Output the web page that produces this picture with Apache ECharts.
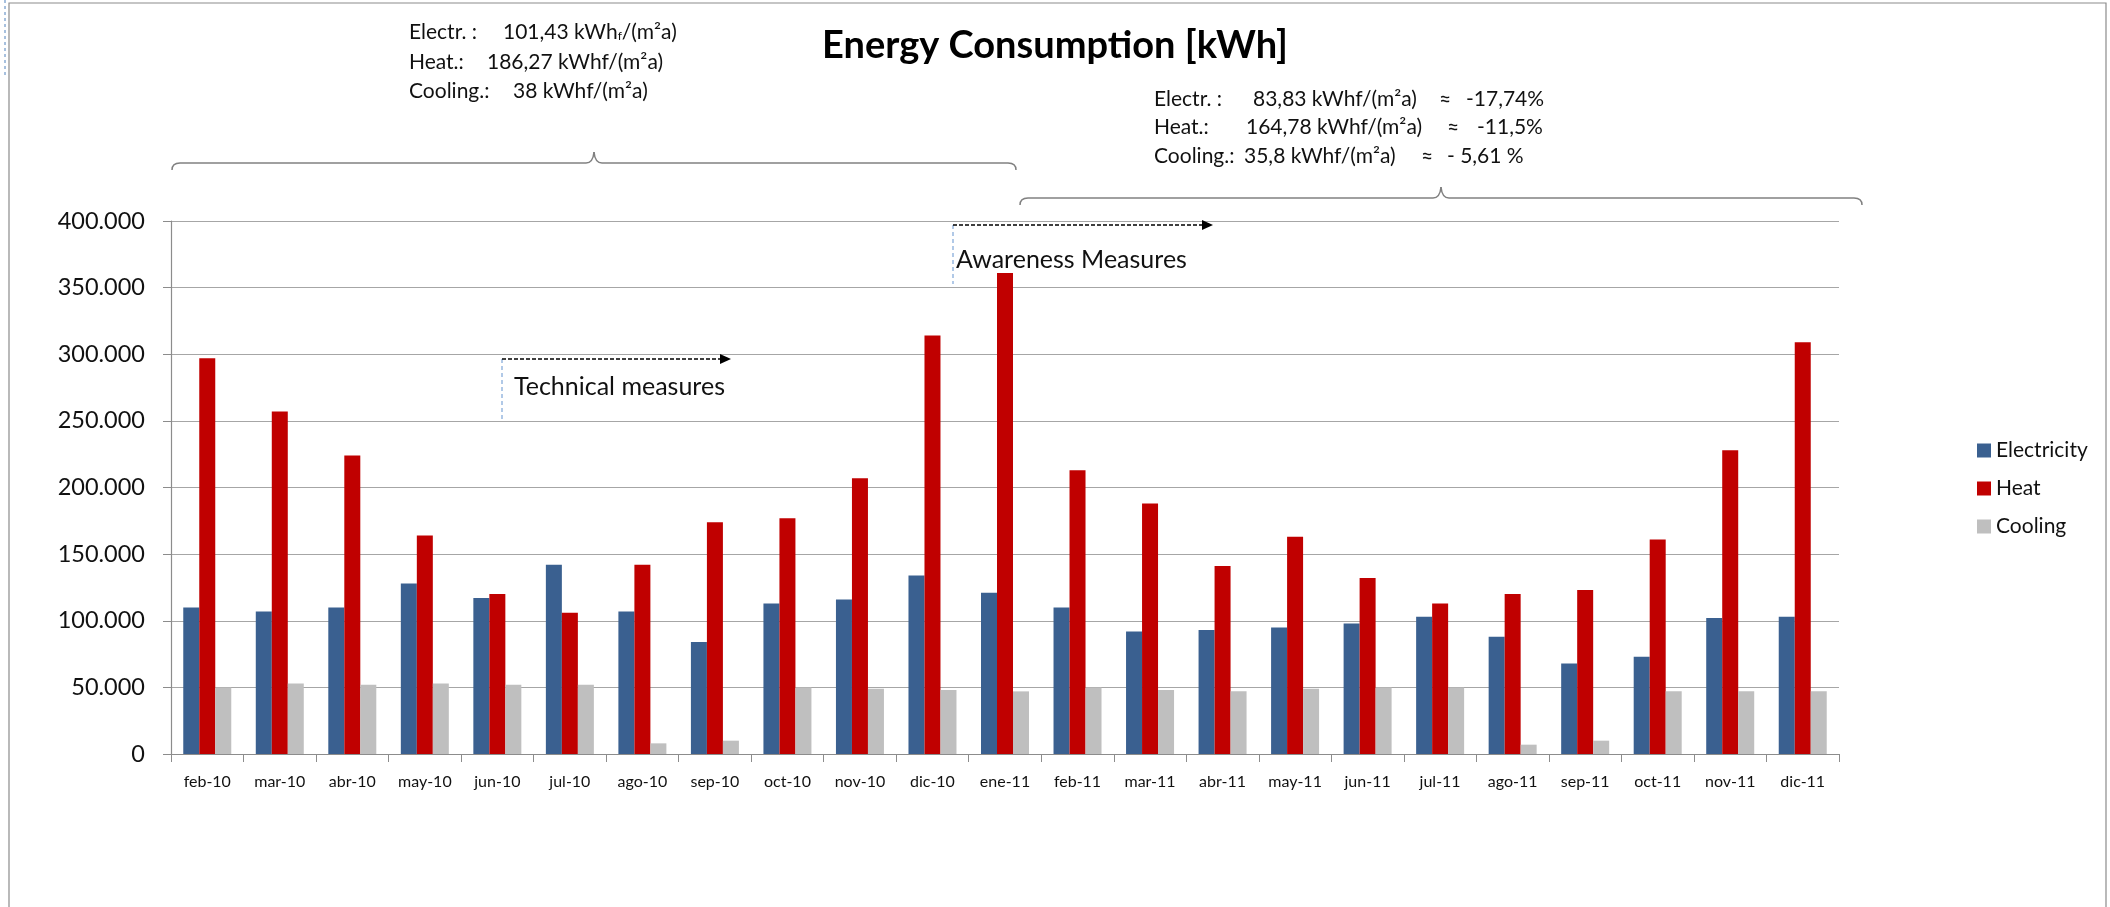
<!DOCTYPE html>
<html>
<head>
	<meta charset="utf-8">
	<title>Energy Consumption</title>
	<script src="https://cdn.jsdelivr.net/npm/echarts@6/dist/echarts.min.js"></script>
	<style>
		html, body { margin: 0; padding: 0; background: #fff; }
		#chart { width: 2110px; height: 907px; }
	</style>
</head>
<body>
	<div id="chart"></div>
	<script>
		// data (kWh per month)
		var months = ['feb-10', 'mar-10', 'abr-10', 'may-10', 'jun-10', 'jul-10', 'ago-10', 'sep-10', 'oct-10', 'nov-10', 'dic-10', 'ene-11',
			'feb-11', 'mar-11', 'abr-11', 'may-11', 'jun-11', 'jul-11', 'ago-11', 'sep-11', 'oct-11', 'nov-11', 'dic-11']
		var electricity = [110000, 107000, 110000, 128000, 117000, 142000, 107000, 84000, 113000, 116000, 134000, 121000,
			110000, 92000, 93000, 95000, 98000, 103000, 88000, 68000, 73000, 102000, 103000]
		var heat = [297000, 257000, 224000, 164000, 120000, 106000, 142000, 174000, 177000, 207000, 314000, 361000,
			213000, 188000, 141000, 163000, 132000, 113000, 120000, 123000, 161000, 228000, 309000]
		var cooling = [50000, 53000, 52000, 53000, 52000, 52000, 8000, 10000, 50000, 49000, 48000, 47000,
			50000, 48000, 47000, 49000, 50000, 50000, 7000, 10000, 47000, 47000, 47000]

		var yMin = 0, yMax = 400000, yStep = 50000

		var FONT = 'Lato, "Noto Sans", sans-serif'

		function fmt(v) {
			return String(v).replace(/\B(?=(\d{3})+(?!\d))/g, '.')
		}

		// small helpers for the text / shapes laid over the chart
		function txt(x, y, s, size, extra) {
			var st = { text: s, x: x, y: y, fill: '#111', textAlign: 'left', textVerticalAlign: 'middle',
				font: size + 'px ' + FONT }
			if (extra) for (var k in extra) st[k] = extra[k]
			return { type: 'text', z: 100, style: st }
		}
		function seg(x1, y1, x2, y2, color, dash, w) {
			return { type: 'line', z: 100, shape: { x1: x1, y1: y1, x2: x2, y2: y2 },
				style: { stroke: color, lineWidth: w || 1.2, lineDash: dash || null } }
		}
		function curve(x1, y1, cx, cy, x2, y2) {
			return { type: 'bezierCurve', z: 100, shape: { x1: x1, y1: y1, cpx1: cx, cpy1: cy, x2: x2, y2: y2 },
				style: { stroke: '#808080', lineWidth: 1.5, fill: null } }
		}
		function head(x, y) {
			return { type: 'polygon', z: 100, shape: { points: [[x - 11, y - 5], [x, y], [x - 11, y + 5]] },
				style: { fill: '#000' } }
		}
		// curly brace lying on its side, tip pointing up
		function brace(x1, x2, y, peak) {
			var m = (x1 + x2) / 2
			return [
				curve(x1, y + 7, x1, y, x1 + 8, y),
				seg(x1 + 8, y, m - 8, y, '#808080', null, 1.5),
				curve(m - 8, y, m - 1, y, m, peak),
				curve(m, peak, m + 1, y, m + 8, y),
				seg(m + 8, y, x2 - 8, y, '#808080', null, 1.5),
				curve(x2 - 8, y, x2, y, x2, y + 7)
			]
		}

		// "kWh" + subscript f + "/(m²a)"
		var richSub = {
			n: { fontSize: 21, fontFamily: FONT, fill: '#111' },
			s: { fontSize: 12, fontFamily: FONT, fill: '#111', verticalAlign: 'bottom' }
		}

		var deco = [
			// outer frame
			{ type: 'rect', z: 100, shape: { x: 9, y: 3, width: 2097, height: 920 },
				style: { stroke: '#8c8c8c', lineWidth: 1.2, fill: null } },
			seg(5, 0, 5, 78, '#4f81bd', [3, 3], 1),

			// period summary, left
			txt(409, 32, 'Electr. :', 21),
			{ type: 'text', z: 100, style: { x: 503, y: 32, textAlign: 'left', textVerticalAlign: 'middle',
				text: '{n|101,43 kWh}{s|f}{n|/(m²a)}', rich: richSub } },
			txt(409, 62, 'Heat.:', 21),
			txt(487, 62, '186,27 kWhf/(m²a)', 21),
			txt(409, 91, 'Cooling.:', 21),
			txt(513, 91, '38 kWhf/(m²a)', 21),

			// period summary, right
			txt(1154, 99, 'Electr. :', 21),
			txt(1253, 99, '83,83 kWhf/(m²a)', 21),
			txt(1439, 99, '≈', 21),
			txt(1466, 99, '-17,74%', 21),
			txt(1154, 127, 'Heat.:', 21),
			txt(1246, 127, '164,78 kWhf/(m²a)', 21),
			txt(1447, 127, '≈', 21),
			txt(1477, 127, '-11,5%', 21),
			txt(1154, 156, 'Cooling.:', 21),
			txt(1244, 156, '35,8 kWhf/(m²a)', 21),
			txt(1421, 156, '≈', 21),
			txt(1447, 156, '- 5,61 %', 21),

			// measures
			seg(502, 359, 502, 419, '#7ea6d8', [4, 3], 1.2),
			seg(502, 359, 722, 359, '#000', [4, 2], 1.3),
			head(731, 359),
			txt(514, 387, 'Technical measures', 25),
			seg(953, 225, 953, 284, '#7ea6d8', [4, 3], 1.2),
			seg(953, 225, 1204, 225, '#000', [4, 2], 1.3),
			head(1213, 225),
			txt(956, 260, 'Awareness Measures', 25)
		].concat(brace(172, 1016, 163, 152), brace(1020, 1862, 198, 187))

		var mCharts = echarts.init(document.getElementById('chart'))

		var opt = {
			backgroundColor: '#fff',
			animation: false,
			title: {
				text: 'Energy Consumption [kWh]',
				left: 'center',
				top: 22,
				textStyle: { fontFamily: FONT, fontWeight: 'bold', fontSize: 38, color: '#000' }
			},
			legend: {
				orient: 'vertical',
				left: 1977,
				top: 440,
				padding: 0,
				itemWidth: 14,
				itemHeight: 14,
				itemGap: 17,
				icon: 'rect',
				textStyle: { fontFamily: FONT, fontSize: 21, color: '#111' },
				data: ['Electricity', 'Heat', 'Cooling']
			},
			grid: { left: 171, right: 271, top: 221, bottom: 153, containLabel: false },
			xAxis: {
				type: 'category',
				data: months,
				axisLine: { lineStyle: { color: '#8c8c8c', width: 1.2 } },
				axisTick: { show: true, length: 8, lineStyle: { color: '#8c8c8c' } },
				axisLabel: { color: '#111', fontFamily: FONT, fontSize: 16, margin: 20, interval: 0 }
			},
			yAxis: {
				type: 'value',
				min: yMin,
				max: yMax,
				interval: yStep,
				axisLine: { show: true, lineStyle: { color: '#8c8c8c', width: 1.2 } },
				axisTick: { show: true, length: 8, lineStyle: { color: '#8c8c8c' } },
				splitLine: { lineStyle: { color: '#a6a6a6', width: 1.2 } },
				axisLabel: { color: '#111', fontFamily: FONT, fontSize: 23.5, margin: 26, formatter: fmt }
			},
			series: [
				{ name: 'Electricity', type: 'bar', data: electricity, barWidth: 16, barGap: '0%',
					itemStyle: { color: '#3a6090' } },
				{ name: 'Heat', type: 'bar', data: heat, barWidth: 16, barGap: '0%',
					itemStyle: { color: '#c00000' } },
				{ name: 'Cooling', type: 'bar', data: cooling, barWidth: 16, barGap: '0%',
					itemStyle: { color: '#bfbfbf' } }
			],
			graphic: deco
		}

		mCharts.setOption(opt)
	</script>
</body>
</html>
